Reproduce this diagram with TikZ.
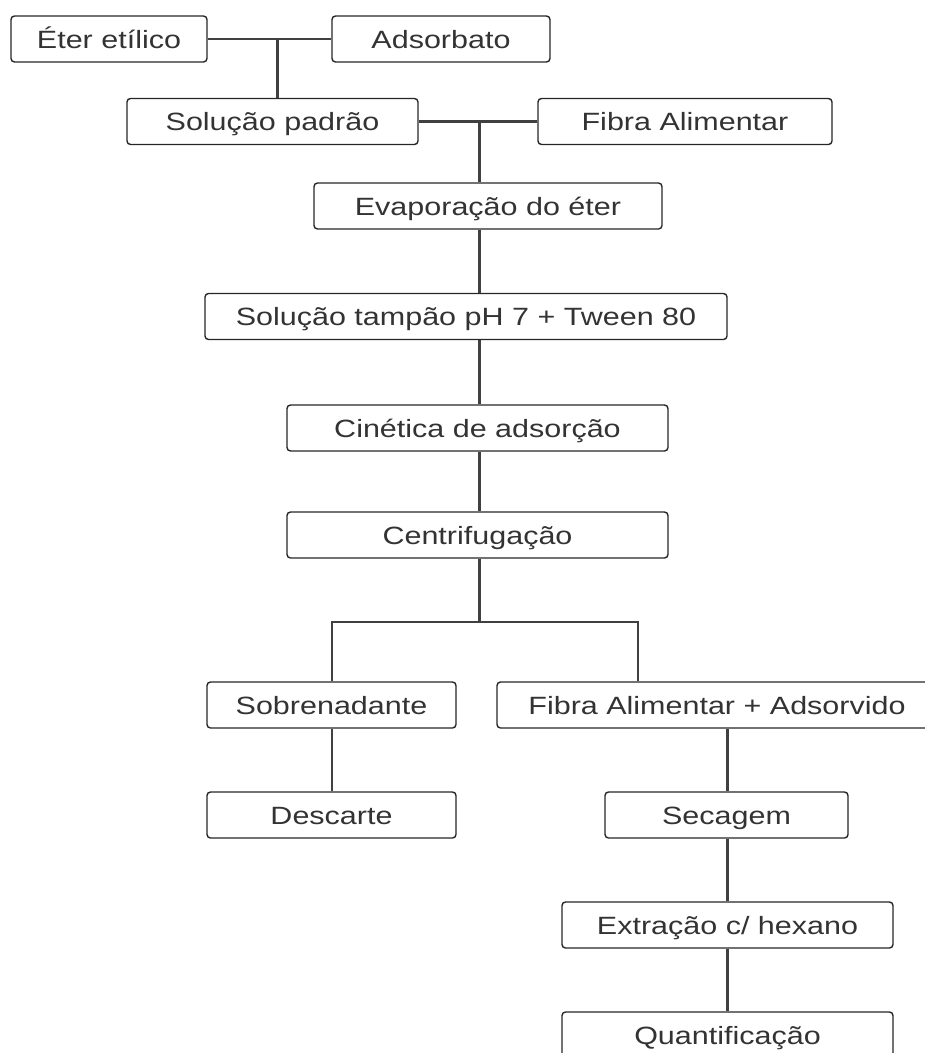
\documentclass[tikz,border=0pt]{standalone}
\usepackage{fontspec}
\setmainfont[FakeStretch=1.22]{Liberation Sans}

\begin{document}
\begin{tikzpicture}[x=1pt, y=-1pt,
    box/.style={draw=black!85, line width=1.4pt, rounded corners=3.5pt, minimum height=46pt,
        inner sep=0pt, text height=20pt, text depth=2pt, text=black!80,
        font=\fontsize{25}{30}\selectfont},
    thinline/.style={draw=black!75, line width=2pt},
    thickline/.style={draw=black!75, line width=3pt}]
    \useasboundingbox (0,0) rectangle (925,1053);
    \clip (0,0) rectangle (925,1053);
    \node [box, minimum width=196pt] (eter) at (109,39) {Éter etílico};
    \node [box, minimum width=218pt] (ads) at (441,39) {Adsorbato};
    \node [box, minimum width=291pt] (sol) at (272.5,121.5) {Solução padrão};
    \node [box, minimum width=294pt] (fibra) at (685,121.5) {Fibra Alimentar};
    \node [box, minimum width=348pt] (evap) at (488,206) {Evaporação do éter};
    \node [box, minimum width=522pt] (tampao) at (466,316.5) {Solução tampão pH 7 + Tween 80};
    \node [box, minimum width=381pt] (cin) at (477.5,428) {Cinética de adsorção};
    \node [box, minimum width=381pt] (centr) at (477.5,535) {Centrifugação};
    \node [box, minimum width=249pt] (sobre) at (331.5,705) {Sobrenadante};
    \node [box, minimum width=440pt] (fibads) at (717,705) {Fibra Alimentar + Adsorvido};
    \node [box, minimum width=249pt] (desc) at (331.5,815) {Descarte};
    \node [box, minimum width=243pt] (sec) at (726.5,815) {Secagem};
    \node [box, minimum width=331pt] (extr) at (727.5,925) {Extração c/ hexano};
    \node [box, minimum width=331pt] (quant) at (727.5,1035) {Quantificação};
    \coordinate (j1) at (277,39);
    \coordinate (j2) at (479,121.5);
    \coordinate (j3) at (479,622);
    \coordinate (sl) at (332,622);
    \coordinate (sr) at (638,622);
    \draw [thinline] (eter.east) -- (ads.west);
    \draw [thickline] (j1) -- (j1 |- sol.north);
    \draw [thickline] (sol.east) -- (fibra.west);
    \draw [thickline] (j2) -- (j2 |- evap.north);
    \draw [thickline] (j2 |- evap.south) -- (j2 |- tampao.north);
    \draw [thickline] (j2 |- tampao.south) -- (j2 |- cin.north);
    \draw [thickline] (j2 |- cin.south) -- (j2 |- centr.north);
    \draw [thickline] (j2 |- centr.south) -- (j3);
    \draw [thinline] (sobre.north -| sl) -- (sl) -- (sr) -- (sr |- fibads.north);
    \draw [thinline] (sobre.south -| sl) -- (sl |- desc.north);
    \draw [thickline] (sec.north -| 727,0) -- (727,0 |- fibads.south);
    \draw [thickline] (sec.south -| 727,0) -- (727,0 |- extr.north);
    \draw [thickline] (extr.south -| 727,0) -- (727,0 |- quant.north);
\end{tikzpicture}
\end{document}
